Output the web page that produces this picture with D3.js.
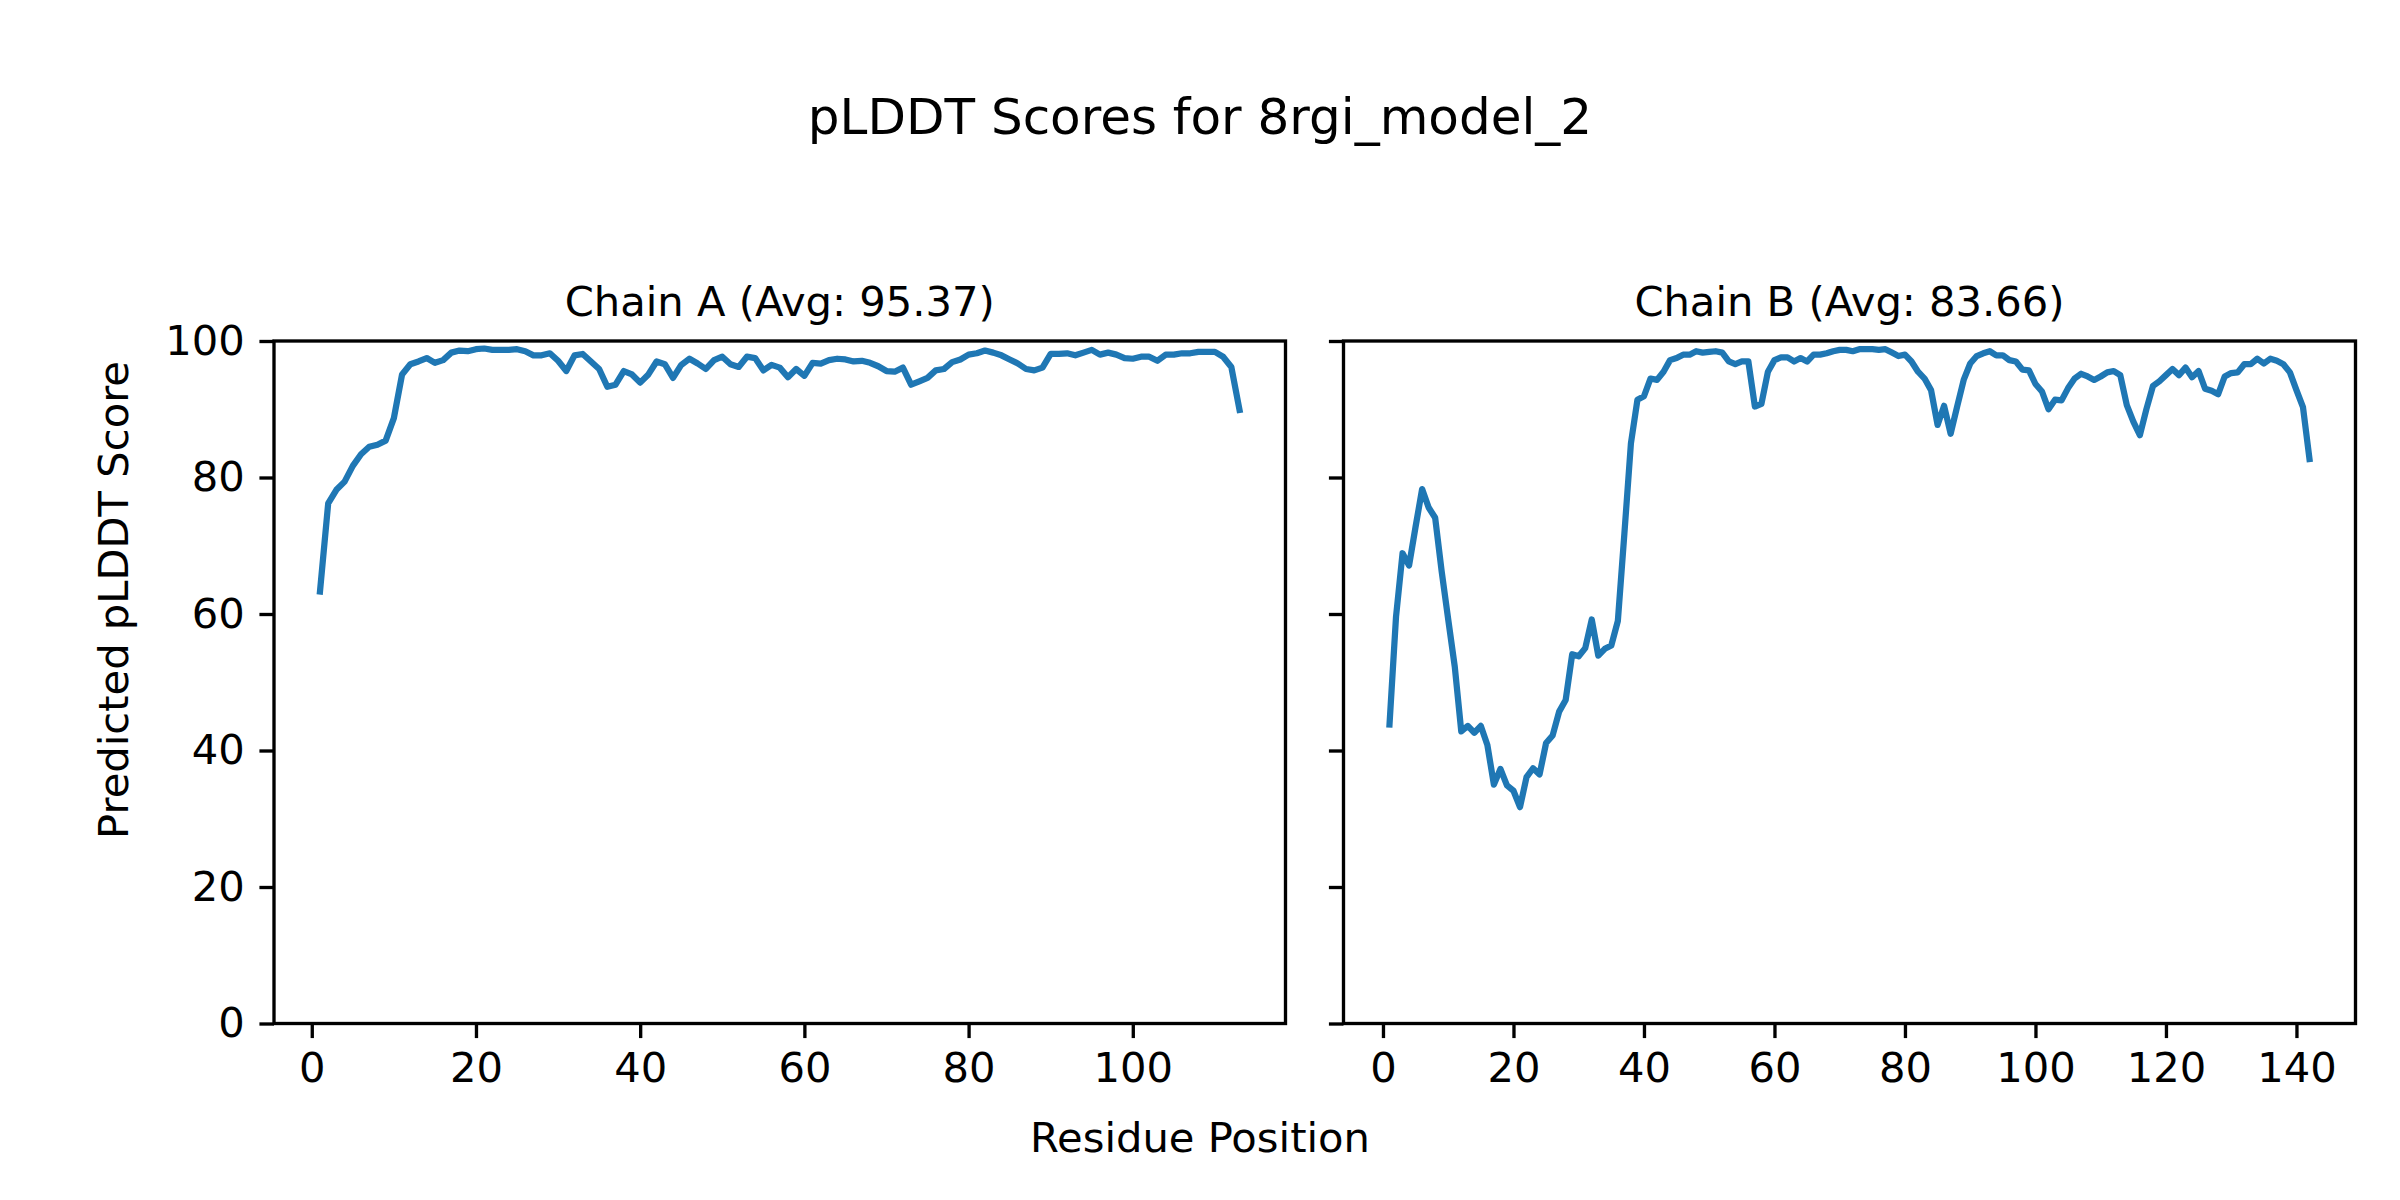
<!DOCTYPE html>
<html>
<head>
<meta charset="utf-8">
<script src="https://d3js.org/d3.v7.min.js"></script>
<style>
  html, body { margin: 0; padding: 0; background: #fff; }
  svg { display: block; }
</style>
</head>
<body>
<div id="chart"></div>
<script>
// pLDDT per residue
const chainAScores = [
  63.3, 76.2, 78.2, 79.4, 81.7, 83.4, 84.5, 84.8, 85.4, 88.7,
  95.1, 96.6, 97.0, 97.5, 96.8, 97.2, 98.3, 98.6, 98.5, 98.8,
  98.9, 98.7, 98.7, 98.7, 98.8, 98.5, 97.9, 97.9, 98.2, 97.1,
  95.6, 97.9, 98.1, 97.0, 95.9, 93.3, 93.6, 95.6, 95.1, 93.9,
  95.1, 97.0, 96.6, 94.6, 96.5, 97.4, 96.7, 95.9, 97.2, 97.7,
  96.6, 96.2, 97.7, 97.5, 95.7, 96.5, 96.1, 94.7, 95.9, 94.9,
  96.8, 96.7, 97.2, 97.4, 97.3, 97.0, 97.1, 96.8, 96.3, 95.6,
  95.5, 96.1, 93.6, 94.1, 94.6, 95.7, 95.9, 96.9, 97.3, 98.0,
  98.2, 98.6, 98.3, 97.9, 97.3, 96.7, 95.9, 95.7, 96.1, 98.1,
  98.1, 98.2, 97.9, 98.3, 98.7, 98.0, 98.3, 98.0, 97.5, 97.4,
  97.7, 97.7, 97.1, 98.0, 98.0, 98.2, 98.2, 98.4, 98.4, 98.4,
  97.7, 96.2, 89.9
];

const chainBScores = [
  43.8, 59.6, 68.9, 67.1, 72.8, 78.3, 75.6, 74.1, 66.2, 59.2,
  52.3, 42.8, 43.6, 42.6, 43.6, 40.8, 35.0, 37.3, 34.9, 34.1,
  31.7, 36.1, 37.4, 36.5, 41.1, 42.2, 45.7, 47.4, 54.1, 53.8,
  55.0, 59.2, 53.9, 54.9, 55.4, 59.0, 71.8, 85.0, 91.4, 91.9,
  94.5, 94.3, 95.5, 97.2, 97.5, 98.0, 98.0, 98.5, 98.3, 98.4,
  98.5, 98.3, 97.0, 96.6, 97.0, 97.0, 90.4, 90.8, 95.5, 97.2,
  97.6, 97.6, 97.0, 97.5, 97.0, 98.0, 98.0, 98.2, 98.5, 98.7,
  98.7, 98.5, 98.8, 98.8, 98.8, 98.7, 98.8, 98.3, 97.8, 98.0,
  97.0, 95.5, 94.5, 92.8, 87.7, 90.5, 86.4, 90.4, 94.3, 96.7,
  97.8, 98.2, 98.5, 97.9, 97.9, 97.2, 97.0, 95.8, 95.7, 93.7,
  92.6, 90.0, 91.4, 91.3, 93.1, 94.5, 95.2, 94.8, 94.3, 94.8,
  95.4, 95.6, 95.0, 90.6, 88.2, 86.2, 90.0, 93.4, 94.1, 95.0,
  95.9, 95.0, 96.1, 94.7, 95.6, 93.0, 92.7, 92.2, 94.8, 95.3,
  95.4, 96.6, 96.6, 97.4, 96.7, 97.4, 97.1, 96.6, 95.4, 92.8,
  90.3, 82.7
];

const chainATicks = [0, 20, 40, 60, 80, 100];
const chainBTicks = [0, 20, 40, 60, 80, 100, 120, 140];
const yTicks = [0, 20, 40, 60, 80, 100];

const chainATitle = "Chain A (Avg: 95.37)";
const chainBTitle = "Chain B (Avg: 83.66)";
const figTitle = "pLDDT Scores for 8rgi_model_2";
const xLabel = "Residue Position";
const yLabel = "Predicted pLDDT Score";

// layout (pixels, 300 dpi figure)
const W = 2400, H = 1200;
const pt = 300 / 72;
const font = "'DejaVu Sans', sans-serif";
const tickFont = 10 * pt;
const tickLen = 3.5 * pt;
const tickPad = 3.5 * pt;
const spineW = 0.8 * pt;
const lineColor = "#1f77b4";

const plotTop = 341, plotBottom = 1023.5;
const panels = [
  { left: 274, right: 1285.5, scores: chainAScores, ticks: chainATicks, title: chainATitle, labels: true },
  { left: 1343.5, right: 2355.5, scores: chainBScores, ticks: chainBTicks, title: chainBTitle, labels: false }
];

const svg = d3.select("#chart").append("svg")
  .attr("width", W)
  .attr("height", H)
  .style("font-family", font);

svg.append("rect").attr("width", W).attr("height", H).attr("fill", "#fff");

const y = d3.scaleLinear().domain([0, 100]).range([plotBottom, plotTop]);

panels.forEach(p => {
  const data = p.scores.map((v, i) => ({ pos: i + 1, score: v }));
  const n = data.length;
  const pad = (n - 1) * 0.05;
  const x = d3.scaleLinear()
    .domain([1 - pad, n + pad])
    .range([p.left, p.right]);

  const g = svg.append("g");

  // data line
  const line = d3.line()
    .x(d => x(d.pos))
    .y(d => y(d.score));

  g.append("path")
    .datum(data)
    .attr("fill", "none")
    .attr("stroke", lineColor)
    .attr("stroke-width", 1.5 * pt)
    .attr("stroke-linejoin", "round")
    .attr("stroke-linecap", "square")
    .attr("d", line);

  // x axis
  const xAxis = g.append("g")
    .attr("transform", `translate(0,${plotBottom})`)
    .call(d3.axisBottom(x).tickValues(p.ticks).tickFormat(d3.format("d"))
      .tickSize(tickLen).tickSizeOuter(0).tickPadding(tickPad));

  // y axis
  const yAxis = g.append("g")
    .attr("transform", `translate(${p.left},0)`)
    .call(d3.axisLeft(y).tickValues(yTicks).tickFormat(p.labels ? d3.format("d") : () => "")
      .tickSize(tickLen).tickSizeOuter(0).tickPadding(tickPad));

  [xAxis, yAxis].forEach(a => {
    a.select(".domain").remove();
    a.selectAll(".tick line").attr("stroke", "#000").attr("stroke-width", spineW);
    a.selectAll(".tick text")
      .attr("fill", "#000")
      .style("font-family", font)
      .style("font-size", tickFont + "px");
  });

  // spines
  g.append("rect")
    .attr("x", p.left)
    .attr("y", plotTop)
    .attr("width", p.right - p.left)
    .attr("height", plotBottom - plotTop)
    .attr("fill", "none")
    .attr("stroke", "#000")
    .attr("stroke-width", spineW);

  // panel title
  g.append("text")
    .attr("x", (p.left + p.right) / 2)
    .attr("y", plotTop - 6 * pt)
    .attr("text-anchor", "middle")
    .style("font-size", tickFont + "px")
    .text(p.title);
});

// figure title and shared labels
svg.append("text")
  .attr("x", W / 2)
  .attr("y", 134)
  .attr("text-anchor", "middle")
  .style("font-size", (12 * pt) + "px")
  .text(figTitle);

svg.append("text")
  .attr("x", W / 2)
  .attr("y", 1152)
  .attr("text-anchor", "middle")
  .style("font-size", tickFont + "px")
  .text(xLabel);

svg.append("text")
  .attr("transform", `translate(128,${H / 2}) rotate(-90)`)
  .attr("text-anchor", "middle")
  .style("font-size", tickFont + "px")
  .text(yLabel);
</script>
</body>
</html>
